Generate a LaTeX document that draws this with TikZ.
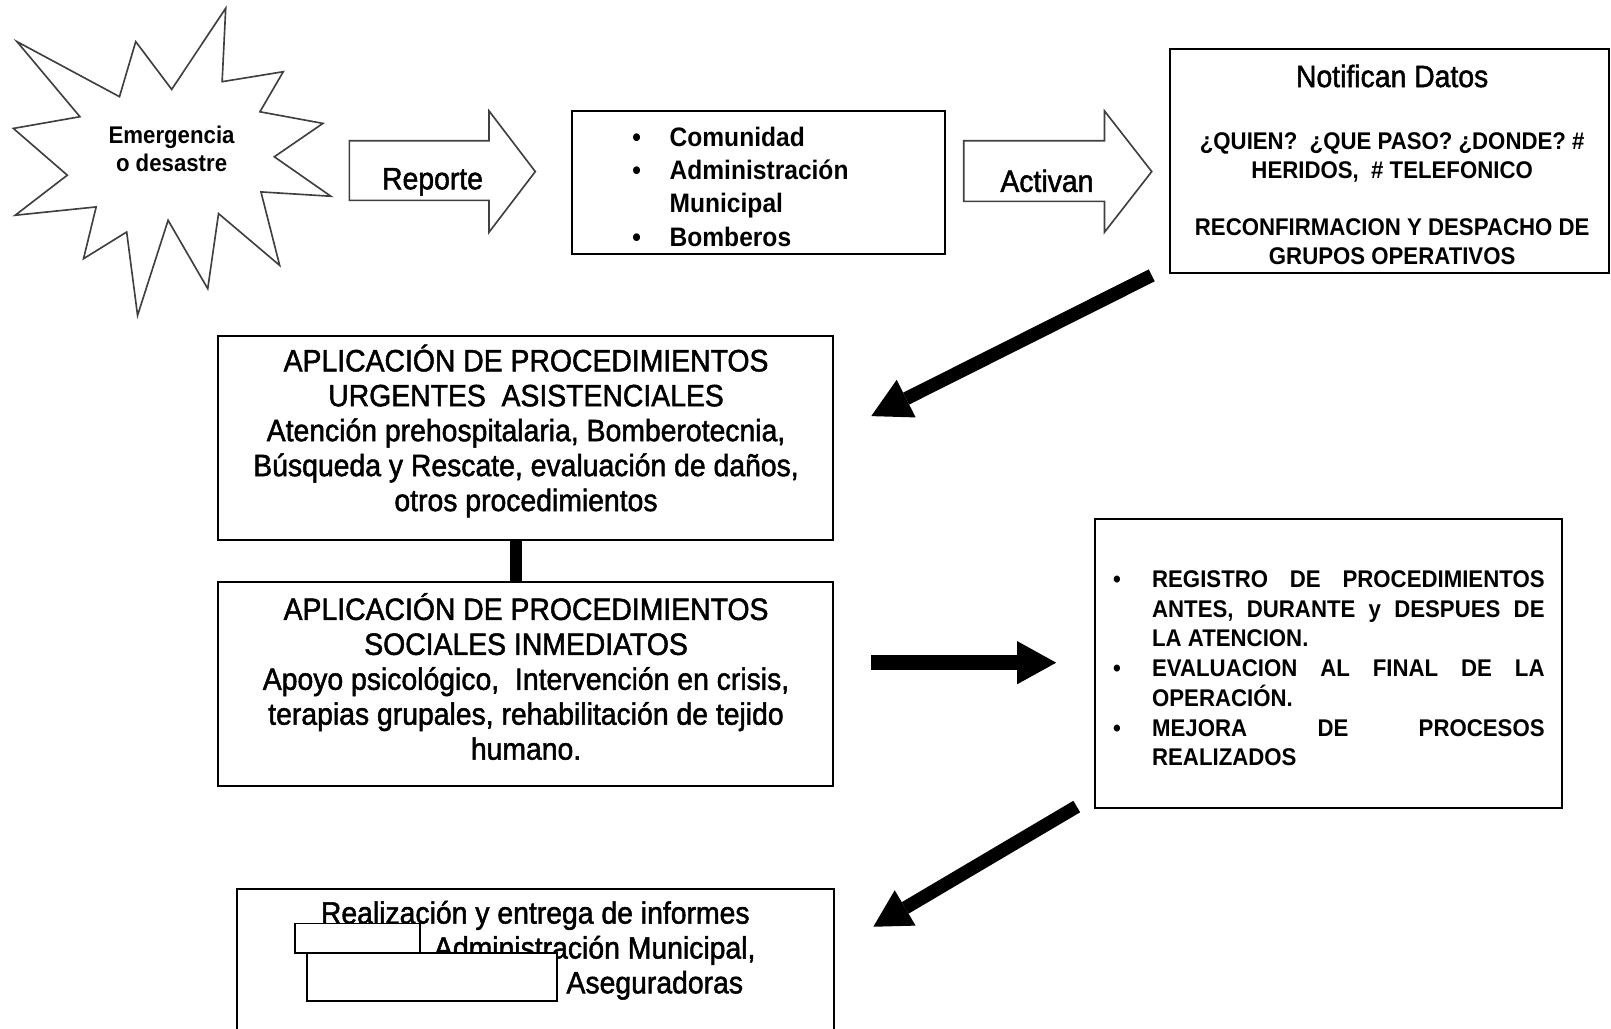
\documentclass[tikz,border=0pt]{standalone}
\usepackage{fontspec}
\setmainfont{Liberation Sans}
\newfontfamily\nar[FakeStretch=0.92]{Liberation Sans}
\newfontfamily\narreg[FakeStretch=0.92,FakeBold=1.6]{Liberation Sans}
\usetikzlibrary{arrows.meta,calc}
\newcommand\jl[1]{\makebox[191pt][s]{#1}}
\begin{document}
\begin{tikzpicture}[x=0.5pt,y=-0.5pt,
  box/.style={draw=black, line width=1pt, rectangle, inner sep=0pt},
  reg/.style={font=\narreg\fontsize{15pt}{17pt}\selectfont, inner sep=0pt, align=center},
  bld/.style={font=\nar\bfseries\fontsize{11.75pt}{14pt}\selectfont, inner sep=0pt, align=center},
  outl/.style={draw=black!75, line width=0.8pt, fill=white, line join=miter},
  redact/.style={draw=black, fill=white, line width=0.9pt, inner sep=0pt, anchor=north west}]
\useasboundingbox (0,0) rectangle (1568,1001);
\clip (0,0) rectangle (1568,1001);

% star
\draw[outl] (16.5,40.5) -- (116.3,94.1) -- (132.1,40.5) -- (167.1,87.0) -- (219.7,8) -- (216.2,79.5) -- (275.7,69.8) -- (253.0,108.8) -- (314.3,120.1) -- (267.0,152.6) -- (322.0,191.0) -- (254.0,186.8) -- (272.2,258.3) -- (212.7,207.9) -- (202.2,281.0) -- (163.6,214.4) -- (133.9,307.0) -- (123.3,225.8) -- (81.3,251.8) -- (93.6,201.4) -- (14.8,209.5) -- (65.5,170.5) -- (13,125) -- (77.8,113.6) -- cycle;
\node[bld] (emer) at (167,145) {Emergencia\\o desastre};

% Reporte arrow
\draw[outl] (340,137) -- (476,137) -- (476,108) -- (521,167) -- (476,226) -- (476,195) -- (340,195) -- cycle;
\node[reg] (rep) at (421,177) {Reporte};

% list box
\node[box, minimum width=181.5pt, minimum height=69.5pt] (fuentes) at (738.5,177.5) {};
\node[anchor=west, inner sep=0pt, font=\nar\bfseries\fontsize{13pt}{16.17pt}\selectfont] (lista) at (615,184.5)
 {\begin{tabular}{@{}l@{\hspace{14pt}}l@{}}
 \textbullet & Comunidad\\
 \textbullet & Administración\\
  & Municipal\\
 \textbullet & Bomberos
 \end{tabular}};

% Activan arrow
\draw[outl] (938,137) -- (1075,137) -- (1075,108) -- (1121,167) -- (1075,226) -- (1075,196) -- (938,196) -- cycle;
\node[reg] (act) at (1019,176) {Activan};

% Notifican box
\node[box, minimum width=213.5pt, minimum height=109pt] (notif) at (1352.5,157) {};
\node[reg] (nt) at (1355,74) {Notifican Datos};
\node[bld] (nq) at (1355,153) {¿QUIEN?\ \ ¿QUE PASO? ¿DONDE? \#\\HERIDOS,\ \ \# TELEFONICO};
\node[bld] (nr) at (1355,235.5) {RECONFIRMACION Y DESPACHO DE\\GRUPOS OPERATIVOS};

% urgentes
\node[box, minimum width=299.5pt, minimum height=99.5pt] (urg) at (511.5,426.5) {};
\node[reg] (urgt) at (512,419.5) {APLICACIÓN DE PROCEDIMIENTOS\\URGENTES\ \ ASISTENCIALES\\Atención prehospitalaria, Bomberotecnia,\\Búsqueda y Rescate, evaluación de daños,\\otros procedimientos};

% sociales
\node[box, minimum width=299.5pt, minimum height=99.5pt] (soc) at (511.5,665.5) {};
\node[reg] (soct) at (512,658.5) {APLICACIÓN DE PROCEDIMIENTOS\\SOCIALES INMEDIATOS\\Apoyo psicológico,\ \ Intervención en crisis,\\terapias grupales, rehabilitación de tejido\\humano.};

\draw[line width=6pt] ([xshift=-4.75pt]urg.south) -- ([xshift=-4.75pt]soc.north);

% registro
\node[box, minimum width=227pt, minimum height=140.5pt] (reg) at (1293,645.5) {};
\node[anchor=west, inner sep=0pt, font=\nar\bfseries\fontsize{11.75pt}{14.35pt}\selectfont] (regt) at (1083,653)
 {\begin{tabular}{@{}l@{\hspace{15.2pt}}l@{}}
 \textbullet & \jl{REGISTRO DE PROCEDIMIENTOS}\\
  & \jl{ANTES, DURANTE y DESPUES DE}\\
  & LA ATENCION.\\
 \textbullet & \jl{EVALUACION AL FINAL DE LA}\\
  & OPERACIÓN.\\
 \textbullet & \jl{MEJORA DE PROCESOS}\\
  & REALIZADOS
 \end{tabular}};

% informes
\node[box, minimum width=290.5pt, minimum height=80pt, anchor=north west] (inf) at (230,864) {};
\node[reg] (inf1) at (521,891) {Realización y entrega de informes};
\node[reg, anchor=west] (inf2) at (422,925) {Administración Municipal,};
\node[reg, anchor=west] (inf3) at (551,959) {Aseguradoras};
\node[redact, minimum width=61pt, minimum height=14.5pt] (red1) at (286,898) {};
\node[redact, minimum width=121.5pt, minimum height=23pt] (red2) at (298,927) {};

% big arrows
\coordinate (a1s) at (1121,268); \coordinate (a1e) at (848,405);
\draw[line width=6.5pt, -{Triangle[length=19pt,width=20.5pt,line width=0pt]}] (a1s) -- (a1e);
\coordinate (a2s) at (848,645); \coordinate (a2e) at (1028,645);
\draw[line width=7.5pt, -{Triangle[length=19pt,width=21pt,line width=0pt]}] (a2s) -- (a2e);
\coordinate (a3s) at (1048,785); \coordinate (a3e) at (850,902);
\draw[line width=6.5pt, -{Triangle[length=18pt,width=20pt,line width=0pt]}] (a3s) -- (a3e);
\end{tikzpicture}
\end{document}
